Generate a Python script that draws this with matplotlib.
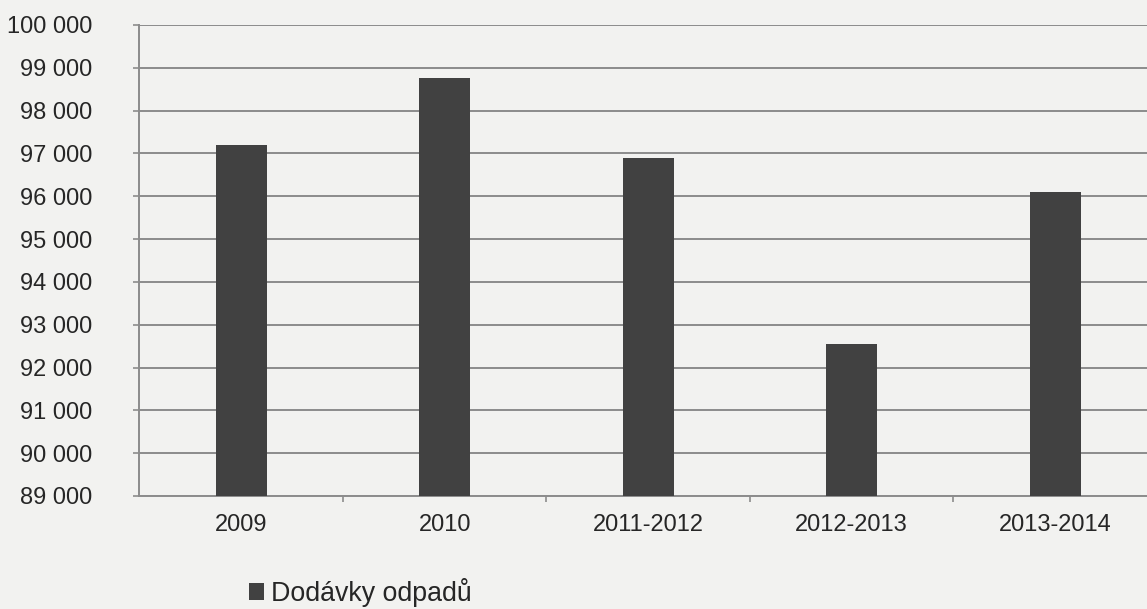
import matplotlib.pyplot as plt
from matplotlib.ticker import FixedLocator, FuncFormatter
from matplotlib.patches import Patch

# Dodávky odpadů po letech
periods = ['2009', '2010', '2011-2012', '2012-2013', '2013-2014']
deliveries = [97200, 98770, 96900, 92550, 96090]
y_ticks = list(range(89000, 100001, 1000))

plt.rcParams['font.family'] = ['Liberation Sans', 'DejaVu Sans']
bg = '#f2f2f0'
grid_col = '#8c8c8c'
text_col = '#262626'
bar_col = '#414141'

fig = plt.figure(figsize=(11.47, 6.09), dpi=100, facecolor=bg)
ax = fig.add_axes([0.1215, 0.1856, 0.8872, 0.7734], facecolor=bg)

x = range(len(periods))
ax.bar(x, deliveries, width=0.25, color=bar_col, zorder=3)

ax.set_xlim(-0.5, len(periods) - 0.5)
ax.set_ylim(y_ticks[0], y_ticks[-1])
ax.yaxis.set_major_locator(FixedLocator(y_ticks))
ax.yaxis.set_major_formatter(FuncFormatter(lambda v, p: f'{int(v):,}'.replace(',', ' ')))
ax.grid(axis='y', color=grid_col, linewidth=1.4, zorder=1)

ax.set_xticks(list(x))
ax.set_xticklabels(periods)
ax.set_xticks([i - 0.5 for i in range(1, len(periods))], minor=True)
ax.tick_params(axis='x', which='major', length=0, pad=13, labelsize=17, labelcolor=text_col)
ax.tick_params(axis='x', which='minor', length=4.5, width=1.2, color=grid_col)
ax.tick_params(axis='y', length=4.5, width=1.2, color=grid_col, pad=29.5,
               labelsize=17, labelcolor=text_col)

for side in ['top', 'right']:
    ax.spines[side].set_visible(False)
for side in ['left', 'bottom']:
    ax.spines[side].set_color(grid_col)
    ax.spines[side].set_linewidth(1.4)

handle = Patch(facecolor=bar_col, edgecolor='none')
fig.legend([handle], ['Dodávky odpadů'], loc='center', bbox_to_anchor=(0.314, 0.027),
           frameon=False, fontsize=19.3, labelcolor=text_col,
           handlelength=0.55, handleheight=0.55, handletextpad=0.25,
           borderpad=0.1)

fig.savefig('out.png', dpi=100, facecolor=bg)
